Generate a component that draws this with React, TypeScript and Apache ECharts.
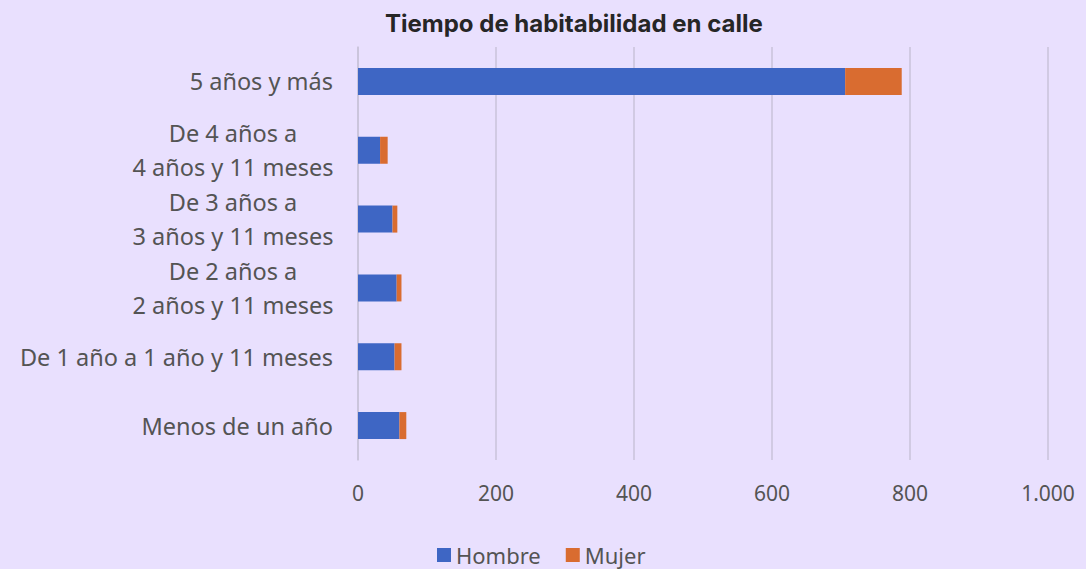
import React, { useEffect, useRef } from "react";
import * as echarts from "echarts";

const categories = [
  "5 años y más",
  "De 4 años a\n4 años y 11 meses",
  "De 3 años a\n3 años y 11 meses",
  "De 2 años a\n2 años y 11 meses",
  "De 1 año a 1 año y 11 meses",
  "Menos de un año",
];
const hombre = [706, 32, 50, 56, 53, 60];
const mujer = [82, 11, 7, 7, 10, 10];
const xTicks = { min: 0, max: 1000, interval: 200 };

const fmtNum = (v: number) => String(v).replace(/\B(?=(\d{3})+(?!\d))/g, ".");

export default function App() {
  const ref = useRef<HTMLDivElement>(null);
  useEffect(() => {
    if (!ref.current) return;
    const chart = echarts.init(ref.current, null, { renderer: "svg" });
    const gridColor = "#c9c3da";
    const labelColor = "#545454";
    const font = "Noto Sans";
    chart.setOption({
      animation: false,
      backgroundColor: "#e9e0fe",
      title: {
        text: "Tiempo de habitabilidad en calle",
        left: 380,
        top: 6,
        textStyle: { fontFamily: "Inter", fontWeight: "bold", fontSize: 24, color: "#262626" },
      },
      grid: { left: 358, right: 38, top: 47, height: 413 },
      xAxis: {
        type: "value",
        min: xTicks.min,
        max: xTicks.max,
        interval: xTicks.interval,
        axisLine: { show: false },
        axisTick: { show: false },
        splitLine: { lineStyle: { color: gridColor, width: 1.5 } },
        axisLabel: {
          color: labelColor,
          fontFamily: font,
          fontSize: 21,
          margin: 22,
          formatter: (v: number) => fmtNum(v),
        },
      },
      yAxis: {
        type: "category",
        data: categories,
        inverse: true,
        axisLine: { show: true, lineStyle: { color: gridColor, width: 1.5 } },
        axisTick: { show: false },
        axisLabel: {
          color: labelColor,
          fontFamily: font,
          fontSize: 23.5,
          margin: 25,
          lineHeight: 34,
          formatter: (v: string) => {
            if (v.includes("\n")) {
              return v
                .split("\n")
                .map((l) => "{c|" + l + "}")
                .join("\n");
            }
            return v;
          },
          rich: {
            c: {
              width: 200,
              align: "center",
              color: labelColor,
              fontFamily: font,
              fontSize: 23.5,
              lineHeight: 34,
            },
          },
        },
      },
      legend: {
        top: 544,
        left: 437,
        padding: 0,
        itemWidth: 14,
        itemHeight: 14,
        itemGap: 25,
        icon: "rect",
        textStyle: { color: labelColor, fontFamily: font, fontSize: 22, lineHeight: 22 },
        data: ["Hombre", "Mujer"],
      },
      series: [
        {
          name: "Hombre",
          type: "bar",
          stack: "total",
          data: hombre,
          barWidth: 27,
          itemStyle: { color: "#3e66c4" },
        },
        {
          name: "Mujer",
          type: "bar",
          stack: "total",
          data: mujer,
          barWidth: 27,
          itemStyle: { color: "#d96c30" },
        },
      ],
    });
    return () => chart.dispose();
  }, []);
  return (
    <div
      ref={ref}
      style={{ position: "fixed", left: 0, top: 0, width: 1086, height: 569 }}
    />
  );
}
